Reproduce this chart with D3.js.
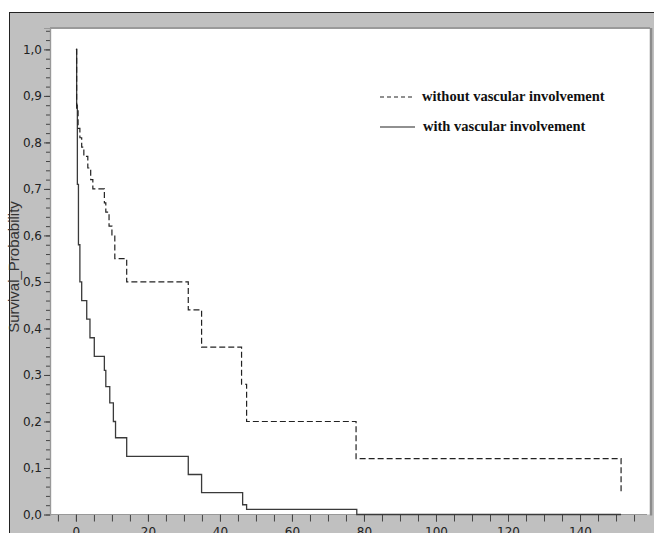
<!DOCTYPE html>
<html>
<head>
<meta charset="utf-8">
<script src="https://cdn.jsdelivr.net/npm/d3@7"></script>
<style>
  body { margin: 0; background: #fff; }
  svg { display: block; }
</style>
</head>
<body>
<svg id="chart-svg" width="654" height="533"></svg>
<script>
// Kaplan-Meier curves (time, survival)
var withoutTime = [0, 0.2, 0.6, 1.1, 1.6, 2.2, 3.3, 4.1, 4.7, 7.9, 8.3, 9.2, 10.0, 10.8, 14.1, 31.2, 34.9, 46.0, 47.4, 77.8, 151.4];
var withoutSurv = [1.0, 0.87, 0.83, 0.81, 0.79, 0.77, 0.745, 0.72, 0.70, 0.67, 0.65, 0.62, 0.60, 0.55, 0.50, 0.44, 0.36, 0.28, 0.20, 0.12, 0.045];

var withTime = [0, 0.2, 0.4, 0.7, 1.1, 1.6, 3.0, 3.9, 5.1, 7.9, 8.3, 9.4, 10.4, 11.0, 14.1, 31.2, 34.9, 46.3, 47.4, 78.0, 151.4];
var withSurv = [1.0, 0.88, 0.71, 0.58, 0.50, 0.46, 0.42, 0.38, 0.34, 0.31, 0.275, 0.24, 0.20, 0.165, 0.125, 0.086, 0.047, 0.021, 0.011, 0, 0];

var xMajorTicks = [0, 20, 40, 60, 80, 100, 120, 140];
var xMinorTicks = d3.range(-5, 156, 5);
var yMajorTicks = [0, 0.1, 0.2, 0.3, 0.4, 0.5, 0.6, 0.7, 0.8, 0.9, 1.0];
var yMinorTicks = d3.range(0, 1.041, 0.02);

var legendLabels = ["without vascular involvement", "with vascular involvement"];

var svg = d3.select("#chart-svg");

var plotLeft = 50, plotRight = 647, plotTop = 28, plotBottom = 514.5;

var x = d3.scaleLinear().domain([-7.2, 158.6]).range([plotLeft, plotRight]);
var y = d3.scaleLinear().domain([0, 1.046]).range([plotBottom, plotTop]);

var comma = d3.formatLocale({decimal: ",", thousands: ".", grouping: [3], currency: ["", ""]}).format(".1f");

// grey panel with frame
svg.append("rect").attr("x", 9).attr("y", 12).attr("width", 645).attr("height", 521).attr("fill", "#c0c0c0");
svg.append("line").attr("x1", 9.5).attr("x2", 9.5).attr("y1", 12).attr("y2", 533).attr("stroke", "#222");
svg.append("line").attr("x1", 9).attr("x2", 654).attr("y1", 12.5).attr("y2", 12.5).attr("stroke", "#222");

// plot area
svg.append("rect").attr("x", plotLeft).attr("y", plotTop).attr("width", 600).attr("height", plotBottom - plotTop).attr("fill", "#fff");
svg.append("line").attr("x1", plotLeft).attr("x2", 650).attr("y1", plotTop).attr("y2", plotTop).attr("stroke", "#9a9a9a").attr("stroke-width", 2);
svg.append("line").attr("x1", 651).attr("x2", 651).attr("y1", plotTop).attr("y2", plotBottom + 1).attr("stroke", "#8c8c8c").attr("stroke-width", 2.5);

// y axis
var yMinor = svg.append("g").attr("transform", "translate(" + plotLeft + ",0)")
    .call(d3.axisLeft(y).tickValues(yMinorTicks).tickSize(4).tickFormat(""));
var yMajor = svg.append("g").attr("transform", "translate(" + plotLeft + ",0)")
    .call(d3.axisLeft(y).tickValues(yMajorTicks).tickSize(6).tickPadding(2).tickFormat(comma));

// x axis
var xMinor = svg.append("g").attr("transform", "translate(0," + plotBottom + ")")
    .call(d3.axisBottom(x).tickValues(xMinorTicks).tickSize(7).tickFormat(""));
var xMajor = svg.append("g").attr("transform", "translate(0," + plotBottom + ")")
    .call(d3.axisBottom(x).tickValues(xMajorTicks).tickSize(7).tickPadding(6).tickFormat(d3.format("d")));

[yMinor, yMajor, xMinor, xMajor].forEach(function(g) {
    g.select(".domain").attr("stroke", "#999").attr("stroke-width", 1.2);
    g.selectAll(".tick line").attr("stroke", "#444");
    g.selectAll(".tick text")
        .attr("fill", "#222")
        .style("font-family", "'DejaVu Sans', sans-serif")
        .style("font-size", "12px");
});
xMajor.select(".domain").attr("d", "M" + plotLeft + ",0H" + plotRight);
xMinor.select(".domain").attr("d", "M" + plotLeft + ",0H" + plotRight);

// axis title
svg.append("text")
    .attr("transform", "translate(19,267) rotate(-90)")
    .attr("text-anchor", "middle")
    .attr("fill", "#333")
    .style("font-family", "'Liberation Sans', Arial, sans-serif")
    .style("font-size", "15px")
    .text("Survival_Probability");

// curves
var line = d3.line()
    .x(function(d) { return x(d[0]); })
    .y(function(d) { return y(d[1]); })
    .curve(d3.curveStepAfter);

var withData = d3.zip(withTime, withSurv);
var withoutData = d3.zip(withoutTime, withoutSurv);

svg.append("path")
    .datum(withData)
    .attr("d", line)
    .attr("fill", "none")
    .attr("stroke", "#3a3a3a")
    .attr("stroke-width", 1.3);

svg.append("path")
    .datum(withoutData)
    .attr("d", line)
    .attr("fill", "none")
    .attr("stroke", "#222")
    .attr("stroke-width", 1.2)
    .attr("stroke-dasharray", "6,3");

// legend
var legendY = [97, 127];
var legend = svg.selectAll(".legend")
    .data(legendLabels)
    .enter()
    .append("g")
    .attr("class", "legend")
    .attr("transform", function(d, i) { return "translate(380," + legendY[i] + ")"; });

legend.append("line")
    .attr("x1", 0).attr("x2", 35).attr("y1", 0).attr("y2", 0)
    .attr("stroke", "#222")
    .attr("stroke-width", 1.2)
    .attr("stroke-dasharray", function(d, i) { return i === 0 ? "4,3" : null; });

legend.append("text")
    .attr("x", function(d, i) { return i === 0 ? 42 : 43; })
    .attr("y", 4)
    .attr("fill", "#111")
    .style("font-family", "'Liberation Serif', 'Times New Roman', serif")
    .style("font-weight", "bold")
    .style("font-size", "14.5px")
    .text(function(d) { return d; });
</script>
</body>
</html>
